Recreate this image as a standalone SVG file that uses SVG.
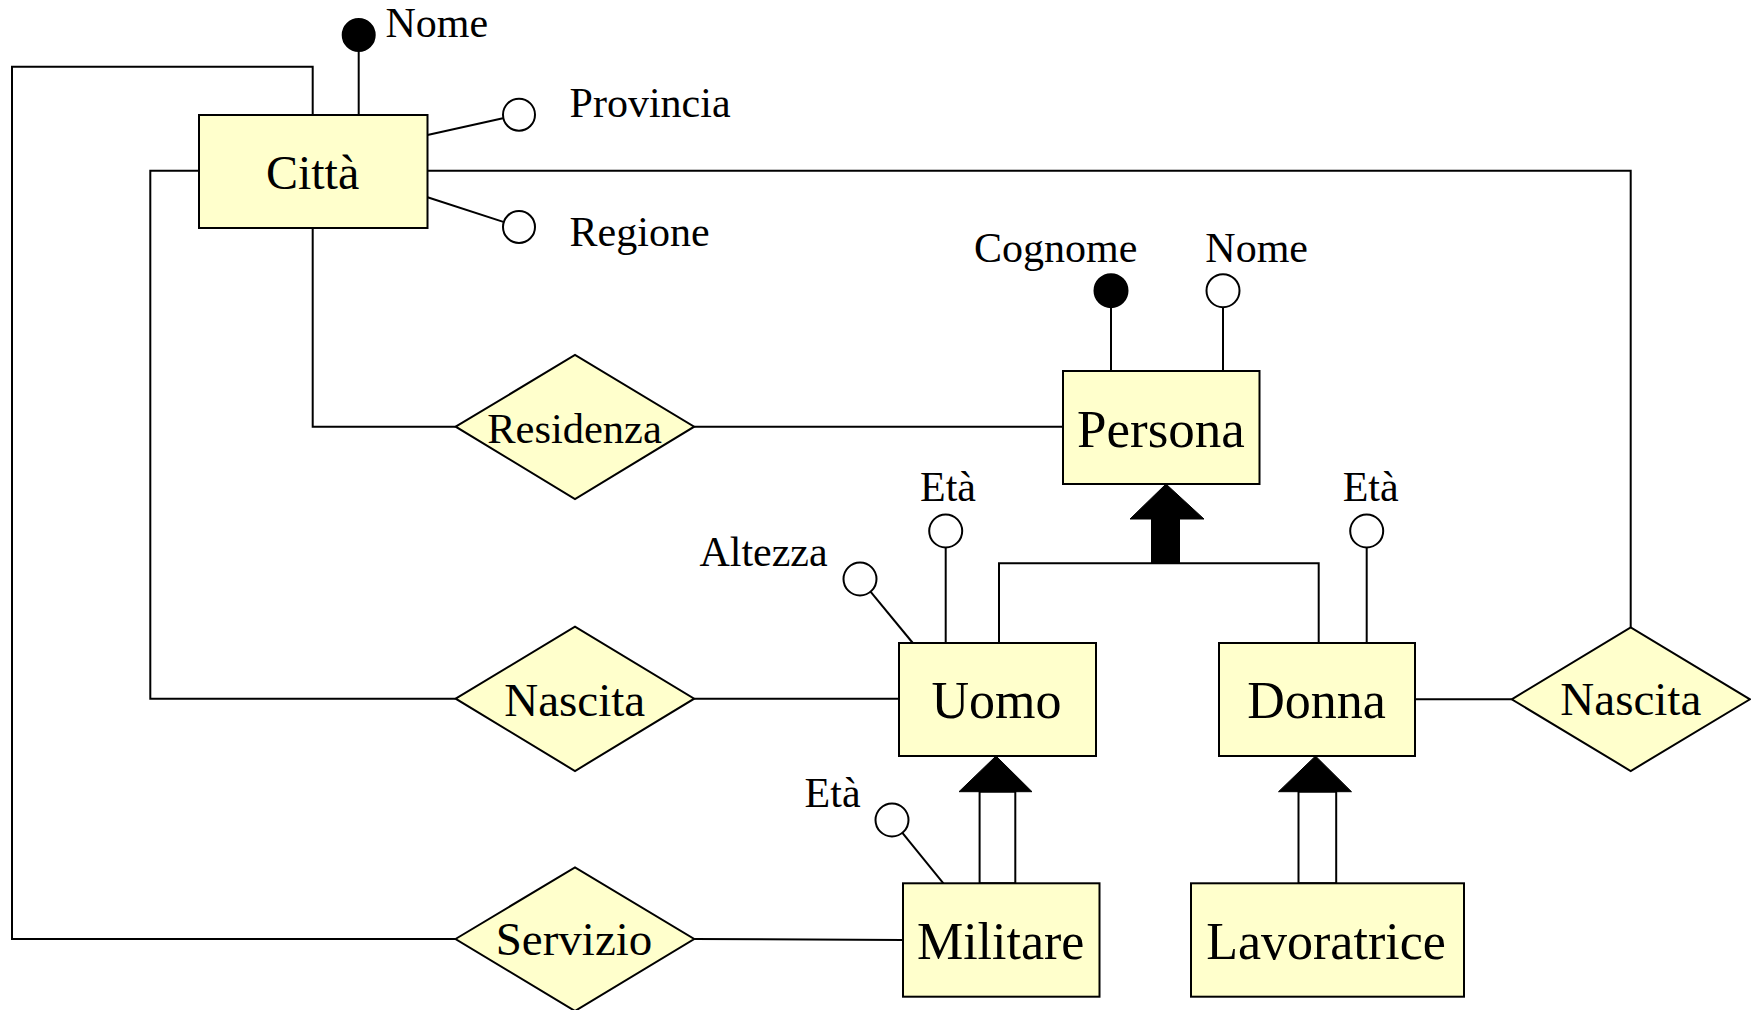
<svg xmlns="http://www.w3.org/2000/svg" width="1751" height="1010" viewBox="0 0 1751 1010">
  <style>
    .ent { fill: #ffffcc; stroke: #000; stroke-width: 2; }
    .rel { fill: #ffffcc; stroke: #000; stroke-width: 2; }
    .ln { fill: none; stroke: #000; stroke-width: 2; }
    .attr { fill: #fff; stroke: #000; stroke-width: 2; }
    .key { fill: #000; stroke: #000; stroke-width: 2; }
    text { font-family: "Liberation Serif", "Times New Roman", serif; fill: #000; }
    .lbl { font-size: 42px; }
    .ename { font-size: 52px; text-anchor: middle; }
    .rname { font-size: 47px; text-anchor: middle; }
  </style>

  <!-- connectors: relationship links and ISA lines -->
  <g id="connectors">
    <path class="ln" d="M312.7,115 V66.7 H12 V939 H455.5"/>
    <path class="ln" d="M694.2,939 L903,940"/>
    <path class="ln" d="M199,170.7 H150.3 V698.7 H455.7"/>
    <path class="ln" d="M694.2,698.7 L899,698.7"/>
    <path class="ln" d="M427.5,170.7 H1630.7 V627.3"/>
    <path class="ln" d="M1415,699.3 L1511.7,699.3"/>
    <path class="ln" d="M312.7,228 V426.7 H455.7"/>
    <path class="ln" d="M694.2,426.7 L1063,426.7"/>
    <!-- total generalization Persona -> Uomo / Donna -->
    <path class="ln" d="M999,643 V563.3 H1318.7 V643"/>
    <polygon fill="#000" stroke="#000" stroke-width="1" points="1166,484 1130,519 1204,519"/>
    <rect x="1151" y="518.5" width="29" height="45.5" fill="#000"/>
    <!-- subset Uomo <- Militare -->
    <rect x="979.6" y="791.7" width="35.7" height="91.6" fill="#fff" stroke="#000" stroke-width="2"/>
    <polygon fill="#000" stroke="#000" stroke-width="1" points="996,756 959,791.7 1032,791.7"/>
    <!-- subset Donna <- Lavoratrice -->
    <rect x="1298.5" y="791.7" width="37.7" height="91.6" fill="#fff" stroke="#000" stroke-width="2"/>
    <polygon fill="#000" stroke="#000" stroke-width="1" points="1315.5,756 1278.5,791.7 1351.5,791.7"/>
  </g>

  <!-- entity Città with its attributes -->
  <g id="citta">
    <line class="ln" x1="358.7" y1="51.5" x2="358.7" y2="115"/>
    <circle class="key" cx="358.7" cy="35" r="16"/>
    <text class="lbl" x="385.4" y="36.7">Nome</text>
    <line class="ln" x1="427.5" y1="135" x2="502.9" y2="118.3"/>
    <circle class="attr" cx="519" cy="114.7" r="16"/>
    <text class="lbl" x="569.6" y="117.3">Provincia</text>
    <line class="ln" x1="427.5" y1="197.3" x2="503.3" y2="221.9"/>
    <circle class="attr" cx="519" cy="227" r="16"/>
    <text class="lbl" x="569.6" y="246">Regione</text>
    <rect class="ent" x="199" y="115" width="228.5" height="113"/>
    <text class="ename" x="312.6" y="189.3" style="font-size:48px">Città</text>
  </g>

  <!-- entity Persona -->
  <g id="persona">
    <line class="ln" x1="1111" y1="307" x2="1111" y2="371"/>
    <circle class="key" cx="1111" cy="290.7" r="16.5"/>
    <text class="lbl" x="974" y="261.7">Cognome</text>
    <line class="ln" x1="1223" y1="307" x2="1223" y2="371"/>
    <circle class="attr" cx="1223" cy="290.7" r="16.5"/>
    <text class="lbl" x="1205.3" y="261.7">Nome</text>
    <rect class="ent" x="1063" y="371" width="196.5" height="113"/>
    <text class="ename" x="1161" y="446.7" style="font-size:53px">Persona</text>
  </g>

  <!-- entity Uomo -->
  <g id="uomo">
    <line class="ln" x1="945.7" y1="547.5" x2="945.7" y2="643"/>
    <circle class="attr" cx="945.7" cy="531" r="16.5"/>
    <text class="lbl" x="920" y="501">Età</text>
    <line class="ln" x1="870.5" y1="591.7" x2="912.8" y2="643"/>
    <circle class="attr" cx="860" cy="579" r="16.5"/>
    <text class="lbl" x="699.4" y="566">Altezza</text>
    <rect class="ent" x="899" y="643" width="197" height="113"/>
    <text class="ename" x="996.4" y="718.3">Uomo</text>
  </g>

  <!-- entity Donna -->
  <g id="donna">
    <line class="ln" x1="1366.7" y1="547.5" x2="1366.7" y2="643"/>
    <circle class="attr" cx="1366.7" cy="531" r="16.5"/>
    <text class="lbl" x="1342.7" y="501">Età</text>
    <rect class="ent" x="1219" y="643" width="196" height="113"/>
    <text class="ename" x="1316.5" y="718.3">Donna</text>
  </g>

  <!-- entity Militare -->
  <g id="militare">
    <line class="ln" x1="902.4" y1="832.8" x2="943.4" y2="883.3"/>
    <circle class="attr" cx="892" cy="820" r="16.5"/>
    <text class="lbl" x="804.6" y="806.7">Età</text>
    <rect class="ent" x="903" y="883.3" width="196.5" height="113.4"/>
    <text class="ename" x="1000.7" y="959">Militare</text>
  </g>

  <!-- entity Lavoratrice -->
  <g id="lavoratrice">
    <rect class="ent" x="1191" y="883.3" width="273" height="113.4"/>
    <text class="ename" x="1326" y="959">Lavoratrice</text>
  </g>

  <!-- relationships -->
  <g id="residenza">
    <polygon class="rel" points="455.7,426.7 575,355 694.2,426.7 575,499"/>
    <text class="rname" x="574.5" y="442.7" style="font-size:42.5px">Residenza</text>
  </g>
  <g id="nascita-uomo">
    <polygon class="rel" points="455.7,698.7 575,626.7 694.2,698.7 575,771"/>
    <text class="rname" x="574.7" y="716">Nascita</text>
  </g>
  <g id="servizio">
    <polygon class="rel" points="455.5,939 575,867.3 694.2,939 575,1011"/>
    <text class="rname" x="574" y="955">Servizio</text>
  </g>
  <g id="nascita-donna">
    <polygon class="rel" points="1511.7,699.3 1630.7,627.3 1750,699.3 1630.7,771"/>
    <text class="rname" x="1630.8" y="715">Nascita</text>
  </g>
</svg>
